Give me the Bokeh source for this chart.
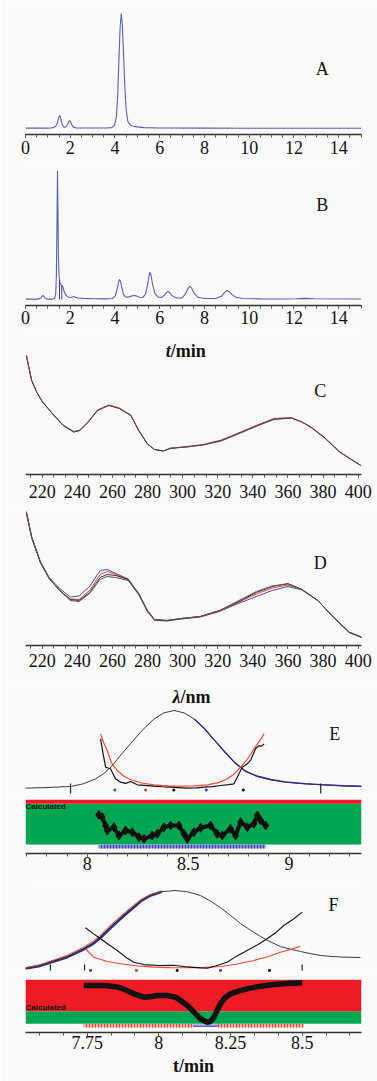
from bokeh.plotting import figure
from bokeh.layouts import column
from bokeh.models import Range1d, Label, NumeralTickFormatter, SingleIntervalTicker
from bokeh.embed import file_html
from bokeh.resources import INLINE

# ---------------- data ----------------
# Panel A chromatogram (t/min, relative signal)
A_t = [0, 1.0, 1.25, 1.35, 1.42, 1.47, 1.50, 1.53, 1.56, 1.60, 1.65, 1.72, 1.80, 1.88, 1.93, 1.97, 2.01, 2.06, 2.14, 2.25,
       2.5, 3.0, 3.6, 3.85, 3.98, 4.06, 4.12, 4.18, 4.23, 4.28, 4.33, 4.38, 4.44, 4.50, 4.58, 4.68, 4.8, 5.0, 5.3, 6.0,
       8.0, 10.0, 12.0, 15.0]
A_v = [0.3, 0.3, 0.8, 2.0, 4.5, 8.5, 10.5, 11.3, 10, 6.5, 3, 1.2, 1.3, 3.5, 6, 7, 6, 3.5, 1.2, 0.6,
       0.4, 0.4, 0.5, 0.8, 3, 10, 28, 62, 88, 100, 90, 66, 36, 16, 6, 3, 2, 1.4, 0.8, 0.5,
       0.3, 0.2, 0.2, 0.2]

# Panel B chromatogram
B_t = [0, 0.55, 0.68, 0.74, 0.78, 0.82, 0.88, 1.0, 1.2, 1.30, 1.35, 1.38, 1.41, 1.43, 1.45, 1.47, 1.50, 1.54, 1.58, 1.63,
       1.68, 1.73, 1.80, 1.90, 2.02, 2.10, 2.16, 2.22, 2.35, 2.6, 3.0, 3.6, 3.9, 4.02, 4.10, 4.16, 4.20, 4.25, 4.31, 4.38,
       4.48, 4.62, 4.76, 4.86, 4.96, 5.10, 5.25, 5.36, 5.45, 5.52, 5.56, 5.61, 5.68, 5.78, 5.92, 6.08, 6.22, 6.31, 6.37, 6.44,
       6.55, 6.75, 7.0, 7.14, 7.25, 7.34, 7.42, 7.53, 7.7, 8.0, 8.5, 8.75, 8.9, 9.01, 9.1, 9.22, 9.4, 9.7, 10.5, 11.5,
       12.1, 12.48, 12.9, 15]
B_v = [0.3, 0.3, 1.0, 2.4, 3.1, 2.4, 0.8, 0.3, 0.3, 1.0, 4, 18, 65, 100, 70, 35, 18, 13, 11.5, 10.9,
       9.5, 6, 3.5, 2, 1.5, 2, 2.3, 1.8, 1.2, 0.9, 0.6, 0.5, 0.8, 3, 8.5, 13.5, 15.5, 14, 9, 4,
       1.8, 2, 2.8, 3.1, 2.8, 1.8, 1.6, 4, 11, 18, 21.2, 19, 12, 5, 2, 1.5, 3.5, 5.5, 6.2, 5.5,
       3, 1.2, 1.2, 4, 8, 10.3, 9, 5, 1.8, 0.8, 0.8, 2.5, 5.5, 7, 6.2, 4, 1.8, 0.8, 0.5, 0.4,
       0.6, 0.9, 0.6, 0.4]
B_drop_t = [1.52, 1.62]
B_drop_v = [15, 11]

# Panel C UV spectra (nm, mAU)
C_nm = [211, 214, 217, 220, 226, 232, 238, 241.5, 246, 251.5, 258, 264, 270.5, 275, 280, 284, 289, 293, 302, 311.5,
        322, 333, 342.5, 352, 362, 368, 373, 380.5, 389.5, 397, 401.5]
C_black = [119, 94, 82, 73, 60.5, 49, 42.5, 44, 52, 64, 69, 66, 59, 44, 30.5, 25, 23.5, 26, 27.5, 29.5,
           34, 42, 49, 55.5, 56.5, 52.5, 47.5, 37.5, 22.5, 14, 9]
C_blue = [119, 94, 82, 73, 60.5, 49.5, 43, 44.5, 52.5, 64.5, 69.5, 66, 59, 44, 30.5, 25, 23.5, 26.5, 27.5, 29.5,
          33.5, 41.5, 48.5, 55, 56.5, 52.5, 47.5, 37.5, 22.5, 14, 9]
C_red = [119, 94, 82, 73, 60.5, 49, 42.5, 44, 52, 64, 69.5, 66.5, 59.5, 44, 30.5, 25, 23.5, 26, 28, 30,
         34.5, 42.5, 49.5, 56, 57, 52.5, 47, 37, 22.5, 14, 9]

# Panel D UV spectra
D_nm = [211, 214, 219, 224, 230, 236, 241, 247, 253, 257, 262, 269, 275, 280, 284, 291, 299, 310, 321, 331,
        342, 351, 360, 368, 377, 386, 395, 402]
D_black1 = [133, 108, 83, 67, 55, 46, 45, 53, 68, 71, 70, 66, 52, 35, 26, 25, 27, 29, 35, 43,
            53, 59, 62, 56, 45, 28, 13, 8]
D_black2 = [133, 108, 83, 67, 55, 45, 44, 52, 66, 69, 68, 65, 51, 34, 26, 25, 27, 29, 35, 44,
            54, 59.5, 61.5, 56, 45, 28, 13, 8]
D_red = [133, 108, 83, 67, 55, 46.5, 46, 55, 71, 74, 71, 66, 51, 34, 25.5, 25, 26.5, 29, 34.5, 42.5,
         51.5, 57.5, 60.5, 56, 45, 28, 13, 8]
D_blue = [134, 109, 84, 68, 57, 48.5, 49.5, 59, 75, 76, 72, 66.5, 51.5, 34, 25, 24.5, 26.5, 28.5, 34, 41.5,
          49, 55, 59, 55.5, 45, 28.5, 13.5, 8.5]

# Panel E peak purity (t/min)
E_t = [7.69, 7.80, 7.92, 7.98, 8.04, 8.08, 8.12, 8.16, 8.215, 8.27, 8.33, 8.38, 8.43, 8.48, 8.53, 8.58, 8.63, 8.68,
       8.73, 8.78, 8.84, 8.91, 8.98, 9.08, 9.16, 9.27, 9.36]
E_fit = [0.4, 1.2, 2.6, 6, 12, 18.8, 28, 41, 57.7, 74, 89, 97, 100, 97, 89, 77, 62, 47,
         33, 22.5, 15.5, 11, 8, 5.8, 4.7, 3.4, 2.6]
E_obs_t = [8.53, 8.58, 8.63, 8.68, 8.73, 8.78, 8.84, 8.91, 8.98, 9.08, 9.16, 9.27, 9.36]
E_obs_v = [89, 77, 62, 47.5, 33.5, 23, 16, 11.5, 8.5, 6.2, 5, 3.6, 2.8]
E_thr_t = [8.066, 8.081, 8.099, 8.12, 8.149, 8.18, 8.215, 8.27, 8.33, 8.40, 8.462, 8.53, 8.595, 8.65, 8.694, 8.73,
           8.76, 8.795, 8.826, 8.852, 8.876]
E_thr_v = [70, 59, 48.7, 33, 23, 16, 11.2, 7, 4.7, 3.4, 2.9, 3.3, 4.7, 7.5, 12.4, 19, 27.3, 38, 50.9, 60, 70]
E_noise_t = [8.066, 8.078, 8.091, 8.115, 8.14, 8.165, 8.19, 8.215, 8.248, 8.28, 8.33, 8.37, 8.413, 8.45, 8.496,
             8.54, 8.578, 8.62, 8.661, 8.70, 8.727, 8.752, 8.768, 8.79, 8.809, 8.834, 8.851, 8.862, 8.876]
E_noise_v = [64, 45, 27.3, 25.3, 12.4, 8.1, 6.5, 9, 4.7, 4, 2.9, 2.2, 1.7, 1.2, 0.4,
             0.8, 1.7, 2.5, 3.8, 5, 6, 18.8, 27.3, 31, 36, 51, 55, 54, 57]
E_tick_t = [7.917, 9.157]
E_dot_t = [8.137, 8.289, 8.429, 8.590, 8.773]
E_dot_c = ["#4040c0", "#e04030", "#111111", "#4040c0", "#111111"]
E_pur_t = [8.057, 8.074, 8.091, 8.099, 8.132, 8.157, 8.190, 8.223, 8.256, 8.281, 8.322, 8.347, 8.380, 8.413, 8.454,
           8.479, 8.496, 8.528, 8.562, 8.611, 8.644, 8.669, 8.710, 8.735, 8.760, 8.793, 8.826, 8.843, 8.859, 8.884]
E_pur_v = [0.664, 0.611, 0.425, 0.313, 0.387, 0.201, 0.313, 0.275, 0.163, 0.128, 0.201, 0.239, 0.387, 0.425, 0.425,
           0.239, 0.128, 0.275, 0.374, 0.425, 0.239, 0.201, 0.351, 0.201, 0.499, 0.387, 0.463, 0.649, 0.537, 0.425]
E_limit = 0.91
E_strip = [8.057, 8.884]

# Panel F peak purity
F_t = [7.535, 7.58, 7.622, 7.68, 7.737, 7.77, 7.797, 7.826, 7.856, 7.884, 7.912, 7.94, 7.971, 8.01, 8.058, 8.10,
       8.145, 8.18, 8.215, 8.25, 8.285, 8.32, 8.355, 8.39, 8.424, 8.46, 8.494, 8.53, 8.564, 8.60, 8.634, 8.67, 8.703]
F_fit = [0, 3, 7.7, 14.5, 24.4, 31.5, 39.7, 50, 60.3, 69.5, 78.2, 87, 93.6, 98.5, 100, 98.3,
         93.6, 86.5, 78.2, 68, 57.7, 49, 41, 34, 28.2, 24.6, 21.8, 19, 16.7, 15.5, 14.7, 14.3, 14.1]
F_left_t = [7.535, 7.58, 7.622, 7.68, 7.737, 7.77, 7.797, 7.826, 7.856, 7.884, 7.912, 7.94, 7.971, 8.01]
F_obs_v = [0, 3, 7.7, 14.5, 24.4, 31.5, 39.7, 50, 60.3, 69.5, 78.2, 87, 93.6, 98.5]
F_sum_v = [0.8, 4.2, 9.4, 16.8, 27.2, 34.8, 43.2, 53.6, 63.6, 72.6, 81, 89, 94.5, 98.8]
F_thr_t = [7.744, 7.773, 7.82, 7.866, 7.92, 7.982, 8.04, 8.099, 8.16, 8.215, 8.27, 8.331, 8.38, 8.424, 8.46, 8.494]
F_thr_v = [25.3, 14.5, 9, 6, 3.5, 1.7, 1.1, 0.9, 1.4, 2.6, 5.5, 10.3, 15, 20.9, 24.5, 28.6]
F_noise_t = [7.744, 7.77, 7.797, 7.826, 7.855, 7.89, 7.913, 7.948, 8.0, 8.052, 8.10, 8.145, 8.169, 8.20, 8.238,
             8.27, 8.308, 8.345, 8.378, 8.41, 8.436, 8.47, 8.50]
F_noise_v = [52.2, 45, 38.1, 30.5, 23.1, 13, 8.1, 5, 3.8, 4.2, 2, 0.8, 0.4, 3.5, 8.1,
             15.5, 23.1, 30.5, 38.1, 46.5, 55.1, 63.5, 72.2]
F_tick_t = [7.622, 7.741, 8.5]
F_dot_t = [7.762, 7.922, 8.064, 8.215, 8.386]
F_dot_c = ["#4040c0", "#e04030", "#111111", "#4040c0", "#111111"]
F_pur_t = [7.738, 7.77, 7.808, 7.84, 7.866, 7.89, 7.913, 7.948, 7.975, 7.994, 8.029, 8.06, 8.076, 8.095, 8.111,
           8.128, 8.145, 8.16, 8.169, 8.18, 8.192, 8.203, 8.215, 8.232, 8.250, 8.28, 8.308, 8.35, 8.401, 8.45, 8.500]
F_pur_v = [0.87, 0.872, 0.87, 0.85, 0.818, 0.75, 0.682, 0.605, 0.62, 0.643, 0.643, 0.60, 0.53, 0.44, 0.341,
           0.23, 0.114, 0.06, 0.036, 0.05, 0.15, 0.30, 0.455, 0.6, 0.682, 0.75, 0.795, 0.85, 0.893, 0.915, 0.932]
F_limit = 0.286
F_strip_red_l = [7.738, 8.204]
F_strip_red_r = [8.122, 8.506]
F_strip_blue = [8.122, 8.204]

# ---------------- styling helpers ----------------
BG = "#fafafa"
SERIF = "Liberation Serif"
W = 377
TRACE = "#5c5cba"
BLUE = "#4848c0"
RED = "#ee4a2e"


def base(h, xr, yr, right, bottom, axis):
    p = figure(width=W, height=h, x_range=xr, y_range=yr,
               output_backend="svg", toolbar_location=None,
               x_axis_location="below" if axis else None, y_axis_location=None,
               min_border_left=25, min_border_right=right, min_border_top=0, min_border_bottom=bottom,
               background_fill_color=BG, border_fill_color=BG, outline_line_color=None)
    p.grid.visible = False
    return p


def style_axis(p, interval, minor, standoff):
    ax = p.xaxis[0]
    ax.ticker = SingleIntervalTicker(interval=interval, num_minor_ticks=minor)
    ax.formatter = NumeralTickFormatter(format="0.[00]")
    ax.axis_line_color = "#333333"
    ax.axis_line_width = 1.3
    ax.major_tick_line_color = "#333333"
    ax.major_tick_in = 0
    ax.major_tick_out = 3
    ax.minor_tick_line_color = "#555555"
    ax.minor_tick_in = 0
    ax.minor_tick_out = 3
    ax.major_label_text_font = SERIF
    ax.major_label_text_font_size = "18px"
    ax.major_label_text_color = "#111111"
    ax.major_label_standoff = standoff


def letter(p, x, y, s):
    p.add_layout(Label(x=x, y=y, text=s, text_font=SERIF, text_font_size="18px",
                       text_align="center", text_baseline="middle", text_color="#111111"))


def unit_label(p, x, y, sym, rest):
    p.add_layout(Label(x=x, y=y, text=sym, text_font=SERIF, text_font_size="18px", text_font_style="bold italic",
                       text_align="right", text_baseline="alphabetic", text_color="#111111"))
    p.add_layout(Label(x=x, y=y, text=rest, text_font=SERIF, text_font_size="18px", text_font_style="bold",
                       text_align="left", text_baseline="alphabetic", text_color="#111111"))


def calc_label(p, x, y):
    p.add_layout(Label(x=x, y=y, text="Calculated", text_font="Liberation Sans", text_font_size="8px",
                       text_font_style="bold", text_align="left", text_baseline="middle", text_color="#111111"))


# ---------------- A ----------------
xAB = Range1d(0, 15.02)
pA = base(162, xAB, Range1d(-5.2, 111.3), 1, 28, True)
style_axis(pA, 2, 4, 3)
pA.line(A_t, A_v, line_color=TRACE, line_width=1.1)
letter(pA, 13.26, 52, "A")

# ---------------- B ----------------
pB = base(168, xAB, Range1d(-4.65, 106.2), 1, 25, True)
style_axis(pB, 2, 4, 2)
pB.line(B_t, B_v, line_color=TRACE, line_width=1.1)
pB.segment(x0=B_drop_t, y0=[0, 0], x1=B_drop_t, y1=B_drop_v, line_color="#3c3ca0", line_width=1)
letter(pB, 13.26, 73, "B")

# ---------------- C (its upper margin carries the t/min title of A/B) ----------------
xCD = Range1d(210.5, 401.9)
pC = base(177, xCD, Range1d(0, 144), 1, 33, True)
style_axis(pC, 20, 3, 7)
pC.line(C_nm, C_blue, line_color=BLUE, line_width=1)
pC.line(C_nm, C_red, line_color=RED, line_width=1)
pC.line(C_nm, C_black, line_color="#444444", line_width=1)
letter(pC, 378.4, 84, "C")
unit_label(pC, 293.2, 124, "t", "/min")

# ---------------- D ----------------
pD = base(173, xCD, Range1d(0, 138), 1, 35, True)
style_axis(pD, 20, 3, 5)
pD.line(D_nm, D_blue, line_color=BLUE, line_width=1)
pD.line(D_nm, D_red, line_color=RED, line_width=1)
pD.line(D_nm, D_black1, line_color="#333333", line_width=1)
pD.line(D_nm, D_black2, line_color="#555555", line_width=1)
letter(pD, 378.4, 83, "D")

# ---------------- E (its upper margin carries the λ/nm title of C/D) ----------------
xE = Range1d(7.694, 9.359)
pEt = base(115, xE, Range1d(-9, 138.5), 16, 0, False)
pEt.line(E_t, E_fit, line_color="#3a3a3a", line_width=1)
pEt.line(E_obs_t, E_obs_v, line_color="#2a2a86", line_width=1.4)
pEt.line(E_thr_t, E_thr_v, line_color=RED, line_width=1.2)
pEt.line(E_noise_t, E_noise_v, line_color="#111111", line_width=1.2)
pEt.segment(x0=E_tick_t, y0=-6.4, x1=E_tick_t, y1=6.4, line_color="#222222", line_width=1.2)
pEt.scatter(E_dot_t, [-2] * len(E_dot_t), size=1.8, color=E_dot_c, marker="square")
letter(pEt, 9.226, 70.5, "E")
unit_label(pEt, 8.462, 117.9, "\u03bb", "/nm")

pEb = base(90, xE, Range1d(-0.201, 1.096), 16, 32, True)
style_axis(pEb, 0.5, 5, 0)
pEb.quad(left=xE.start, right=xE.end, bottom=0, top=E_limit, fill_color="#00a651", line_color=None)
pEb.quad(left=xE.start, right=xE.end, bottom=E_limit, top=1.0, fill_color="#ed1c24", line_color=None)
pEb.quad(left=[E_strip[0]], right=[E_strip[1]], bottom=-0.09, top=-0.005, fill_color="#8a8ad8",
         line_color=None, hatch_pattern="vertical_line", hatch_color="#4040b0", hatch_scale=3, hatch_weight=1)
pEb.line(E_pur_t, E_pur_v, line_color="#111111", line_width=4)
pEb.scatter(E_pur_t, E_pur_v, marker="diamond", size=9, color="#111111")
calc_label(pEb, xE.start, 0.845)

# ---------------- F ----------------
xF = Range1d(7.535, 8.707)
pFt = base(90, xF, Range1d(-9, 106.4), 16, 0, False)
pFt.line(F_left_t, F_obs_v, line_color="#2a2a90", line_width=2.6)
pFt.line(F_left_t, F_sum_v, line_color=RED, line_width=1)
pFt.line(F_t, F_fit, line_color="#3a3a3a", line_width=1)
pFt.line(F_thr_t, F_thr_v, line_color=RED, line_width=1.1)
pFt.line(F_noise_t, F_noise_v, line_color="#111111", line_width=1.1)
pFt.segment(x0=F_tick_t, y0=-2.5, x1=F_tick_t, y1=5, line_color="#222222", line_width=1.2)
pFt.scatter(F_dot_t, [-2.5] * len(F_dot_t), size=1.8, color=F_dot_c, marker="square")
letter(pFt, 8.609, 80.8, "F")

pFb = base(106, xF, Range1d(-0.198, 1.098), 16, 49, True)
style_axis(pFb, 0.25, 3, 0)
pFb.xaxis[0].axis_label = "t/min"
pFb.xaxis[0].axis_label_text_font = SERIF
pFb.xaxis[0].axis_label_text_font_size = "18px"
pFb.xaxis[0].axis_label_text_font_style = "bold"
pFb.xaxis[0].axis_label_text_color = "#111111"
pFb.xaxis[0].axis_label_standoff = 4
pFb.quad(left=xF.start, right=xF.end, bottom=0, top=F_limit, fill_color="#00a651", line_color=None)
pFb.quad(left=xF.start, right=xF.end, bottom=F_limit, top=1.0, fill_color="#ed1c24", line_color=None)
pFb.quad(left=F_strip_red_l, right=F_strip_red_r, bottom=-0.085, top=-0.005, fill_color="#f6b0a8",
         line_color=None, hatch_pattern="vertical_line", hatch_color="#e8402a", hatch_scale=3, hatch_weight=1)
pFb.quad(left=[F_strip_blue[0]], right=[F_strip_blue[1]], bottom=-0.06, top=-0.03, fill_color="#ffffff",
         line_color="#5050c0", line_width=1)
pFb.line(F_pur_t, F_pur_v, line_color="#111111", line_width=5.5)
calc_label(pFb, xF.start, 0.36)

layout = column(pA, pB, pC, pD, pEt, pEb, pFt, pFb, spacing=0)
open("out.html", "w").write(file_html(layout, INLINE))
